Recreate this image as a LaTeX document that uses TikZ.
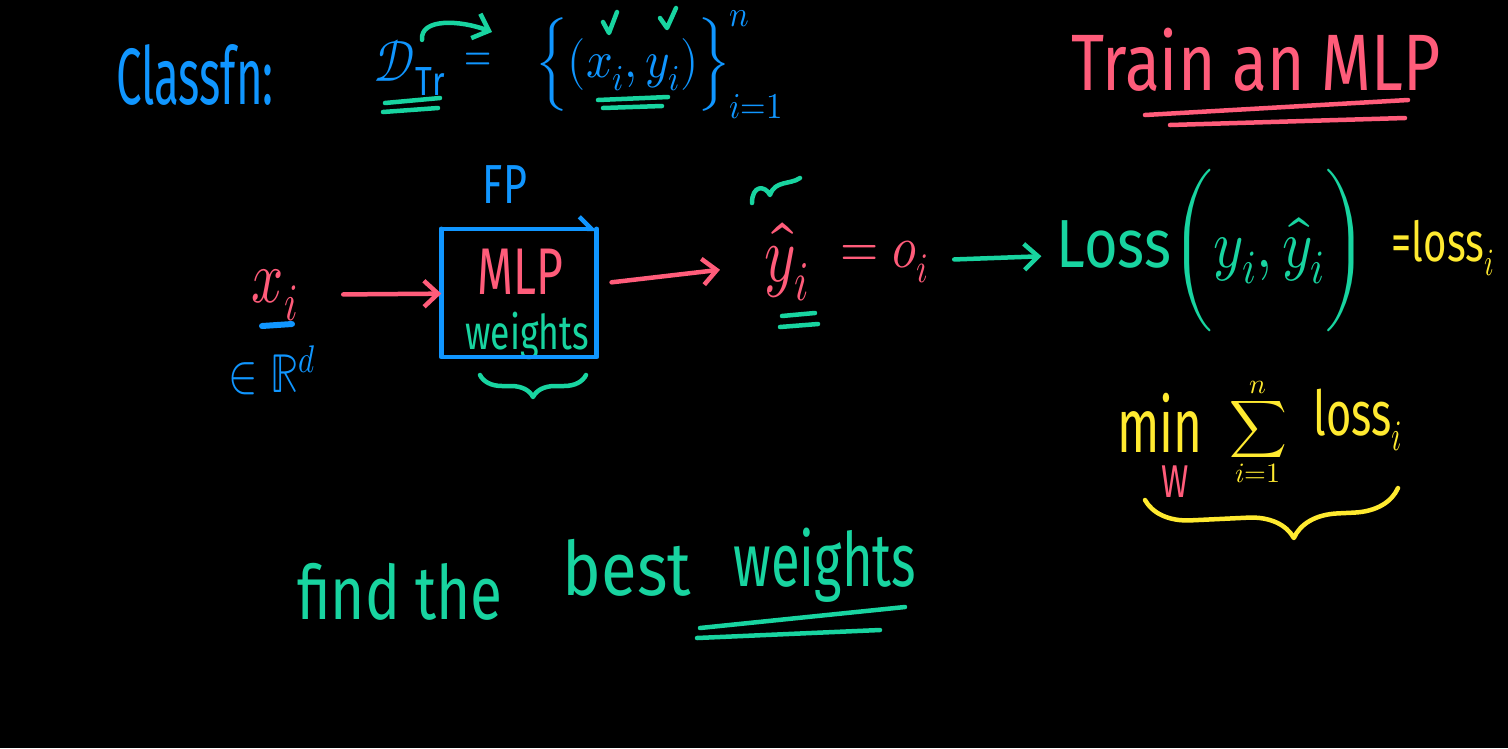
\documentclass[tikz,border=0pt]{standalone}
\usepackage{amsmath}
\usepackage{graphicx}
\usepackage{fontspec}
\usepackage{unicode-math}
\setmainfont{Fira Sans}
\setmathfont{Latin Modern Math}
\usetikzlibrary{arrows.meta}
\usetikzlibrary{decorations.pathreplacing}
\definecolor{inkblue}{RGB}{16,150,255}
\definecolor{inkpink}{RGB}{255,92,122}
\definecolor{inkteal}{RGB}{24,212,160}
\definecolor{inkyellow}{RGB}{255,234,48}
\newcommand{\ink}[3]{\fontsize{#1}{#1}\selectfont\scalebox{#2}[1]{#3}}

\begin{document}
\begin{tikzpicture}[line cap=round,line join=round,x=1pt,y=-1pt,
  >={Straight Barb[length=14pt,width=26pt]},
  pen/.style={line width=4.5pt},
  txt/.style={inner sep=0pt}]
\useasboundingbox (0,0) rectangle (1508,748);
\fill[black] (0,0) rectangle (1508,748);

% top line
\node[txt,inkblue] (classfn) at (195,75) {\ink{80}{0.57}{Classfn:}};
\node[txt,inkblue] (dtr) at (410,68) {\ink{58}{0.8}{$\mathcal{D}_{\mathrm{Tr}}$}};
\node[txt,inkblue] (dtreq) at (478,62) {\ink{50}{0.7}{$=$}};
\node[txt,inkblue] (dset) at (660,65) {\ink{52}{0.9}{$\Bigl\{(x_i,y_i)\Bigr\}_{i=1}^{n}$}};
\node[txt,inkpink] (train) at (1256,60) {\ink{80}{0.8}{Train an MLP}};
\coordinate (setopen) at (492,32);
\draw[pen,inkteal,->] ([xshift=12pt]dtr.north) .. controls (420,18) and (460,20) .. (setopen);
\draw[pen,inkteal] (603,22) -- (609,33) -- (617,12);
\draw[pen,inkteal] (660,18) -- (667,28) -- (676,8);
\draw[pen,inkteal] (385,103) -- (440,98);
\draw[pen,inkteal] (383,112) -- (438,108);
\draw[pen,inkteal] (598,100) -- (668,97);
\draw[pen,inkteal] (603,108) -- (662,106);
\draw[pen,inkpink] (1145,115) -- (1408,100);
\draw[pen,inkpink] (1170,125) -- (1405,118);

% forward pass
\node[txt,inkblue] (fp) at (505,185) {\ink{55}{0.75}{FP}};
\node[minimum width=155pt,minimum height=128pt] (mlp) at (519,293) {};
\node[txt,inkpink] (mlptext) at (520,272) {\ink{66}{0.7}{MLP}};
\node[txt,inkteal] (wts) at (527,336) {\ink{48}{0.74}{weights}};
\draw[pen,inkblue] (mlp.north east) -- (mlp.south east) -- (mlp.south west) -- (mlp.north west);
\draw[pen,inkblue,-{Straight Barb[left,length=12pt,width=24pt]}] (mlp.north west) -- (mlp.north east);
\draw[pen,inkteal,decorate,decoration={brace,mirror,amplitude=22pt}] (480,375) -- (586,375);

\node[txt,inkpink] (xi) at (275,295) {\ink{75}{0.75}{$x_i$}};
\node[txt,inkblue] (inr) at (272,370) {\ink{55}{0.8}{$\in\mathbb{R}^d$}};
\draw[line width=6pt,inkblue] (262,326) -- (292,324);

\node[txt,inkpink] (yhat) at (787,262) {\ink{80}{0.75}{$\hat{y}_i$}};
\draw[pen,inkteal] (752,203) .. controls (752,185) and (765,185) .. (770,195)
  .. controls (775,180) and (790,185) .. (800,178);
\draw[pen,inkteal] (782,316) -- (815,313);
\draw[pen,inkteal] (780,327) -- (818,324);
\node[txt,inkpink] (oi) at (885,262) {\ink{60}{0.82}{$=o_i$}};
\node[txt,inkteal] (loss) at (1212,250) {\ink{68}{0.85}{Loss$\biggl(y_i,\hat{y}_i\biggr)$}};
\node[txt,inkyellow] (lossi) at (1443,248) {\ink{55}{0.73}{=loss$_i$}};

\draw[pen,inkpink,->,shorten <=45pt] (xi) -- (mlp);
\draw[pen,inkpink,->,shorten <=15pt,shorten >=45pt] (mlp) -- (yhat);
\draw[pen,inkteal,->,shorten <=25pt,shorten >=15pt] (oi) -- (loss);

% objective
\node[txt,inkyellow] (min) at (1160,423) {\ink{76}{0.65}{min}};
\node[txt,inkpink] (w) at (1175,482) {\ink{46}{0.72}{W}};
\node[txt,inkyellow] (sum) at (1258,432) {\ink{40}{1}{$\displaystyle\sum_{i=1}^{n}$}};
\node[txt,inkyellow] (losssum) at (1358,420) {\ink{62}{0.7}{loss$_i$}};
\draw[pen,inkyellow,decorate,decoration={brace,mirror,amplitude=45pt,aspect=0.58}] (1145,500) -- (1398,488);

% goal
\node[txt,inkteal] (findthe) at (400,592) {\ink{75}{0.78}{find the}};
\node[txt,inkteal] (best) at (627,568) {\ink{75}{0.87}{best}};
\node[txt,inkteal] (bestwts) at (825,565) {\ink{75}{0.7}{weights}};
\draw[pen,inkteal] (700,628) -- (905,607);
\draw[pen,inkteal] (697,638) -- (880,630);
\end{tikzpicture}
\end{document}
